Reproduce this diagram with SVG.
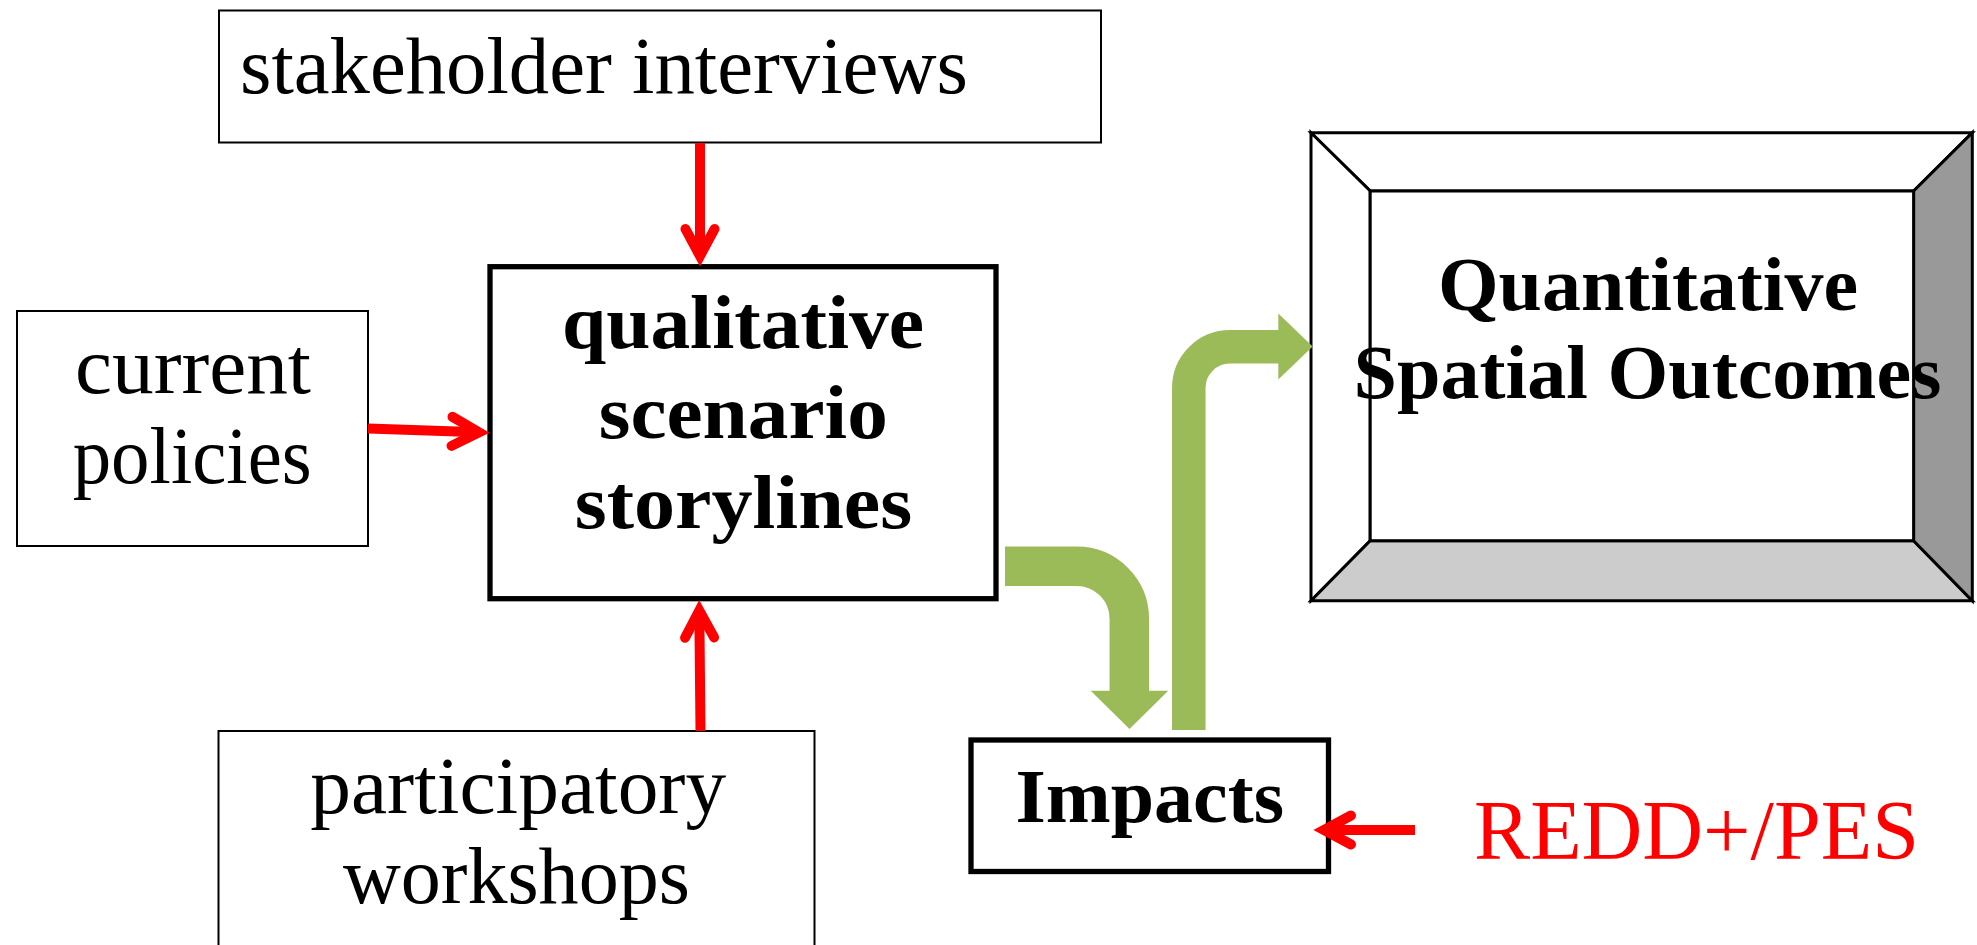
<svg xmlns="http://www.w3.org/2000/svg" width="1977" height="945" viewBox="0 0 1977 945">
<style>
  .thin { fill: #fff; stroke: #000; stroke-width: 2; }
  .thick { fill: #fff; stroke: #000; stroke-width: 5.3; }
  .bevel { stroke: #000; stroke-width: 3; stroke-linejoin: miter; }
  .reg { font-family: "Liberation Serif", "Times New Roman", serif; font-size: 80px; fill: #000; }
  .bold { font-family: "Liberation Serif", "Times New Roman", serif; font-size: 76px; font-weight: bold; fill: #000; }
  .red-label { font-family: "Liberation Serif", "Times New Roman", serif; font-size: 85px; fill: #FF0000; }
  .red { fill: none; stroke: #FF0000; stroke-width: 10; }
  .green { fill: none; stroke: #9BBB59; stroke-linecap: butt; }
  .greenhead { fill: #9BBB59; stroke: none; }
</style>
<defs>
  <marker id="vhead" markerUnits="userSpaceOnUse" viewBox="-40 -25 60 50" markerWidth="60" markerHeight="50" refX="0" refY="0" orient="auto" overflow="visible">
    <path d="M-27,-14.5 L0,0 L-27,14.5" fill="none" stroke="#FF0000" stroke-width="10" stroke-linecap="round" stroke-linejoin="miter"/>
  </marker>
</defs>
<rect width="1977" height="945" fill="#fff"/>

<g id="stakeholder-interviews">
  <rect class="thin" x="219" y="10.5" width="882" height="132"/>
  <text class="reg" x="240" y="93.3" textLength="728" lengthAdjust="spacingAndGlyphs">stakeholder interviews</text>
</g>

<g id="current-policies">
  <rect class="thin" x="17" y="311" width="351" height="235"/>
  <text class="reg" x="75" y="392.7" textLength="236" lengthAdjust="spacingAndGlyphs">current</text>
  <text class="reg" x="72.7" y="482.7" textLength="239" lengthAdjust="spacingAndGlyphs">policies</text>
</g>

<g id="qualitative-scenario-storylines">
  <rect class="thick" x="490" y="266.7" width="506" height="332"/>
  <text class="bold" x="562" y="348.3" textLength="362" lengthAdjust="spacingAndGlyphs">qualitative</text>
  <text class="bold" x="598.8" y="438.3" textLength="289" lengthAdjust="spacingAndGlyphs">scenario</text>
  <text class="bold" x="574.7" y="528.3" textLength="337.5" lengthAdjust="spacingAndGlyphs">storylines</text>
</g>

<g id="participatory-workshops">
  <rect class="thin" x="218.5" y="731" width="596" height="230"/>
  <text class="reg" x="310.2" y="813.3" textLength="416" lengthAdjust="spacingAndGlyphs">participatory</text>
  <text class="reg" x="342.9" y="903.3" textLength="347" lengthAdjust="spacingAndGlyphs">workshops</text>
</g>

<g id="quantitative-spatial-outcomes">
  <polygon class="bevel" fill="#fff" points="1311,132.7 1972.3,132.7 1913.6,191 1370.2,191"/>
  <polygon class="bevel" fill="#fff" points="1311,132.7 1370.2,191 1370.2,540.7 1311,600.7"/>
  <polygon class="bevel" fill="#CCCCCC" points="1311,600.7 1370.2,540.7 1913.6,540.7 1972.3,600.7"/>
  <polygon class="bevel" fill="#999999" points="1972.3,132.7 1972.3,600.7 1913.6,540.7 1913.6,191"/>
  <rect class="bevel" fill="#fff" x="1370.2" y="191" width="543.4" height="349.7"/>
  <text class="bold" x="1438" y="310" textLength="420" lengthAdjust="spacingAndGlyphs">Quantitative</text>
  <text class="bold" x="1353.5" y="398.3" textLength="588" lengthAdjust="spacingAndGlyphs">Spatial Outcomes</text>
</g>

<g id="impacts">
  <rect class="thick" x="971" y="740" width="357.5" height="131.5"/>
  <text class="bold" x="1015.5" y="821.7" textLength="268.5" lengthAdjust="spacingAndGlyphs">Impacts</text>
</g>

<g id="redd-pes">
  <text class="red-label" x="1474" y="859.3" textLength="445" lengthAdjust="spacingAndGlyphs">REDD+/PES</text>
</g>

<g id="connectors">
  <path class="red" d="M700,143 L700,256" marker-end="url(#vhead)"/>
  <path class="red" d="M368,428.5 L479,432.3" marker-end="url(#vhead)"/>
  <path class="red" d="M700.5,731 L699.3,610.6" marker-end="url(#vhead)"/>
  <path class="red" d="M1415,830 L1324,830" marker-end="url(#vhead)"/>

  <path class="green" stroke-width="39.5" d="M1005,566.2 H1076.7 A52.6,52.6 0 0 1 1129.3,618.8 V691.5"/>
  <polygon class="greenhead" points="1090.7,690.7 1168.3,690.7 1129.5,729"/>
  <path class="green" stroke-width="33.5" d="M1188.8,730 V388 A41.2,41.2 0 0 1 1230,346.8 H1279"/>
  <polygon class="greenhead" points="1278.3,313.5 1278.3,379.5 1312.7,346.5"/>
</g>
</svg>
